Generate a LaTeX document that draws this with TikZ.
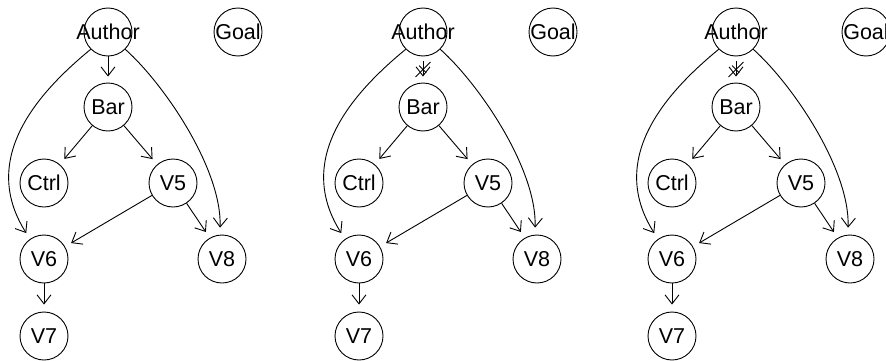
\documentclass[tikz,border=0pt]{standalone}
\usepackage{fontspec}
\setmainfont{Liberation Sans}
\usetikzlibrary{arrows.meta,shapes.misc}
\newcommand{\vl}[1]{\makebox[0pt]{#1}}

\begin{document}
\begin{tikzpicture}[x=1pt,y=1pt,>={Straight Barb[length=9pt,width=14pt]},line width=0.9pt,
  vtx/.style={circle,draw,minimum size=48pt,inner sep=0pt,font=\fontsize{21.5}{24}\selectfont},
  arc/.style={->,shorten >=7pt}]
\useasboundingbox (0,0) rectangle (886,360);
% three copies of the same graph
\foreach \dx/\p in {0/a,315/b,628/c}{
\begin{scope}[xshift=\dx pt]
\node[vtx] (au\p) at (108,328) {\vl{Author}};
\node[vtx] (goal\p) at (238,328) {\vl{Goal}};
\node[vtx] (bar\p) at (108,253) {\vl{Bar}};
\node[vtx] (ctrl\p) at (44,177) {\vl{Ctrl}};
\node[vtx] (v5\p) at (173,177) {\vl{V5}};
\node[vtx] (v6\p) at (44,101) {\vl{V6}};
\node[vtx] (v8\p) at (222,101) {\vl{V8}};
\node[vtx] (v7\p) at (44,24) {\vl{V7}};
%
\draw[arc] (bar\p) -- (ctrl\p);
\draw[arc] (bar\p) -- (v5\p);
\draw[arc] (v5\p) -- (v6\p);
\draw[arc] (v5\p) -- (v8\p.120);
\draw[arc] (v6\p) -- (v7\p);
\draw[arc] (au\p.225) .. controls +(-56,-46) and +(-50,79) .. (v6\p.125);
\draw[arc] (au\p.-45) .. controls +(40,-36) and +(2,65) .. (v8\p.95);
\end{scope}
}
%% Author -> Bar, kept in the first, crossed out in the others
\draw[arc,shorten >=6pt] (aua) -- (bara);
\foreach \p in {b,c}
  \draw[arc,shorten <=5pt,shorten >=6pt] (au\p) -- (bar\p)
    node[midway,cross out,draw,minimum size=14pt,inner sep=0pt] (x\p) {};
\end{tikzpicture}
\end{document}
